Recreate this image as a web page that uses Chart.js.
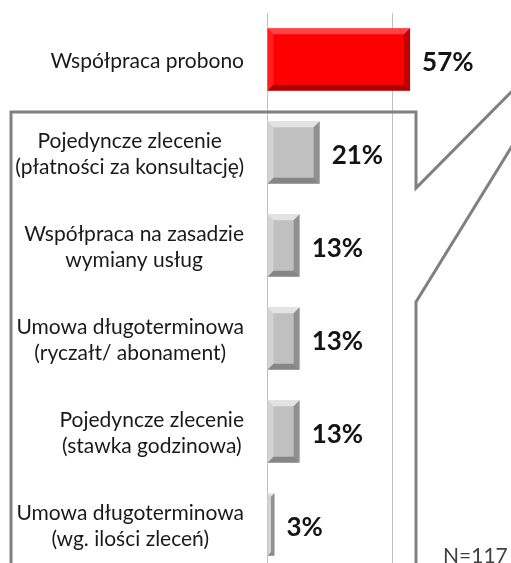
<!DOCTYPE html>
<html>
<head>
<meta charset="utf-8">
<script src="https://cdn.jsdelivr.net/npm/chart.js@4.4.0/dist/chart.umd.min.js"></script>
<style>
  html, body { margin: 0; padding: 0; background: #fff; overflow: hidden; }
  #wrap { position: relative; width: 518px; height: 571px; }
</style>
</head>
<body>
<div id="wrap"><canvas id="formyChart"></canvas></div>
<script>
// ---- Dane ----
const categories = [
  ["Współpraca probono"],
  ["Pojedyncze zlecenie", "(płatności za konsultację)"],
  ["Współpraca na zasadzie", "wymiany usług"],
  ["Umowa długoterminowa", "(ryczałt/ abonament)"],
  ["Pojedyncze zlecenie", "(stawka godzinowa)"],
  ["Umowa długoterminowa", "(wg. ilości zleceń)"],
];
const shares = [57, 21, 13, 13, 13, 3];
const axisTicks = [0, 50, 100];
const sampleNote = "N=117";

const barColors = shares.map((v, i) => (i === 0 ? "#ff0000" : "#c0c0c0"));

// ---- Etykiety kategorii (wyśrodkowane w bloku, blok dosunięty do osi) ----
const categoryLabels = {
  id: "categoryLabels",
  afterDraw(chart) {
    const { ctx } = chart;
    const y = chart.scales.y;
    const right = chart.chartArea.left - 23;
    const lh = 26;
    ctx.save();
    ctx.font = "21px Lato";
    ctx.fillStyle = "#1a1a1a";
    ctx.textAlign = "center";
    ctx.textBaseline = "middle";
    categories.forEach((lines, i) => {
      const w = Math.max(...lines.map(l => ctx.measureText(l).width));
      const cx = right - w / 2;
      const cy = y.getPixelForValue(i) + 2;
      lines.forEach((l, j) => {
        ctx.fillText(l, cx, cy + (j - (lines.length - 1) / 2) * lh);
      });
    });
    ctx.restore();
  },
};

// ---- Efekt fazy na słupkach ----
const bevelBars = {
  id: "bevelBars",
  afterDatasetsDraw(chart) {
    const { ctx } = chart;
    chart.getDatasetMeta(0).data.forEach((bar, i) => {
      const x0 = bar.base, x1 = bar.x;
      const y0 = bar.y - bar.height / 2, y1 = bar.y + bar.height / 2;
      const b = Math.min(6, (x1 - x0) / 2);
      const red = i === 0;
      const poly = (pts, fill) => {
        ctx.beginPath();
        ctx.moveTo(pts[0][0], pts[0][1]);
        pts.slice(1).forEach(p => ctx.lineTo(p[0], p[1]));
        ctx.closePath();
        ctx.fillStyle = fill;
        ctx.fill();
      };
      ctx.save();
      poly([[x0, y0], [x1, y0], [x1 - b, y0 + b], [x0 + b, y0 + b]], red ? "rgba(255,120,120,0.55)" : "rgba(255,255,255,0.55)");
      poly([[x0, y0], [x0 + b, y0 + b], [x0 + b, y1 - b], [x0, y1]], red ? "rgba(255,90,90,0.35)" : "rgba(255,255,255,0.3)");
      poly([[x1, y0], [x1, y1], [x1 - b, y1 - b], [x1 - b, y0 + b]], "rgba(0,0,0,0.25)");
      poly([[x0, y1], [x1, y1], [x1 - b, y1 - b], [x0 + b, y1 - b]], "rgba(0,0,0,0.3)");
      ctx.restore();
    });
  },
};

// ---- Wartości przy słupkach ----
const valueLabels = {
  id: "valueLabels",
  afterDatasetsDraw(chart) {
    const { ctx } = chart;
    ctx.save();
    ctx.font = "bold 26px Lato";
    ctx.fillStyle = "#141414";
    ctx.textAlign = "left";
    ctx.textBaseline = "middle";
    chart.getDatasetMeta(0).data.forEach((bar, i) => {
      ctx.fillText(shares[i] + "%", bar.x + 12, bar.y + 3);
    });
    ctx.restore();
  },
};

// ---- Ramka-dymek i liczebność próby ----
const callout = {
  id: "callout",
  afterDraw(chart) {
    const { ctx } = chart;
    ctx.save();
    ctx.strokeStyle = "#808080";
    ctx.lineWidth = 3;
    ctx.lineJoin = "miter";
    ctx.beginPath();
    ctx.moveTo(11, 600);
    ctx.lineTo(11, 112);
    ctx.lineTo(416, 112);
    ctx.lineTo(416, 188);
    ctx.lineTo(530, 73);
    ctx.moveTo(530, 117);
    ctx.lineTo(416, 302);
    ctx.lineTo(416, 600);
    ctx.stroke();

    ctx.font = "21px Lato";
    ctx.fillStyle = "#404040";
    ctx.textAlign = "left";
    ctx.textBaseline = "alphabetic";
    ctx.fillText(sampleNote, 443, 563);
    ctx.restore();
  },
};

window.addEventListener("DOMContentLoaded", () => {
  const ctx = document.getElementById("formyChart").getContext("2d");
  new Chart(ctx, {
    type: "bar",
    data: {
      labels: categories,
      datasets: [{
        data: shares,
        backgroundColor: barColors,
        borderWidth: 0,
        barPercentage: 0.67,
        categoryPercentage: 1,
      }],
    },
    options: {
      indexAxis: "y",
      responsive: true,
      maintainAspectRatio: false,
      animation: false,
      layout: { padding: { left: 267, top: 13, right: 0, bottom: 0 } },
      plugins: { legend: { display: false }, tooltip: { enabled: false } },
      scales: {
        x: {
          min: 0,
          max: 100,
          afterBuildTicks: s => { s.ticks = axisTicks.map(v => ({ value: v })); },
          ticks: { display: false },
          border: { display: false },
          grid: { color: "#c0c0c0", lineWidth: 1, drawTicks: false },
        },
        y: { display: false },
      },
    },
    plugins: [categoryLabels, bevelBars, valueLabels, callout],
  });
});
</script>
</body>
</html>
